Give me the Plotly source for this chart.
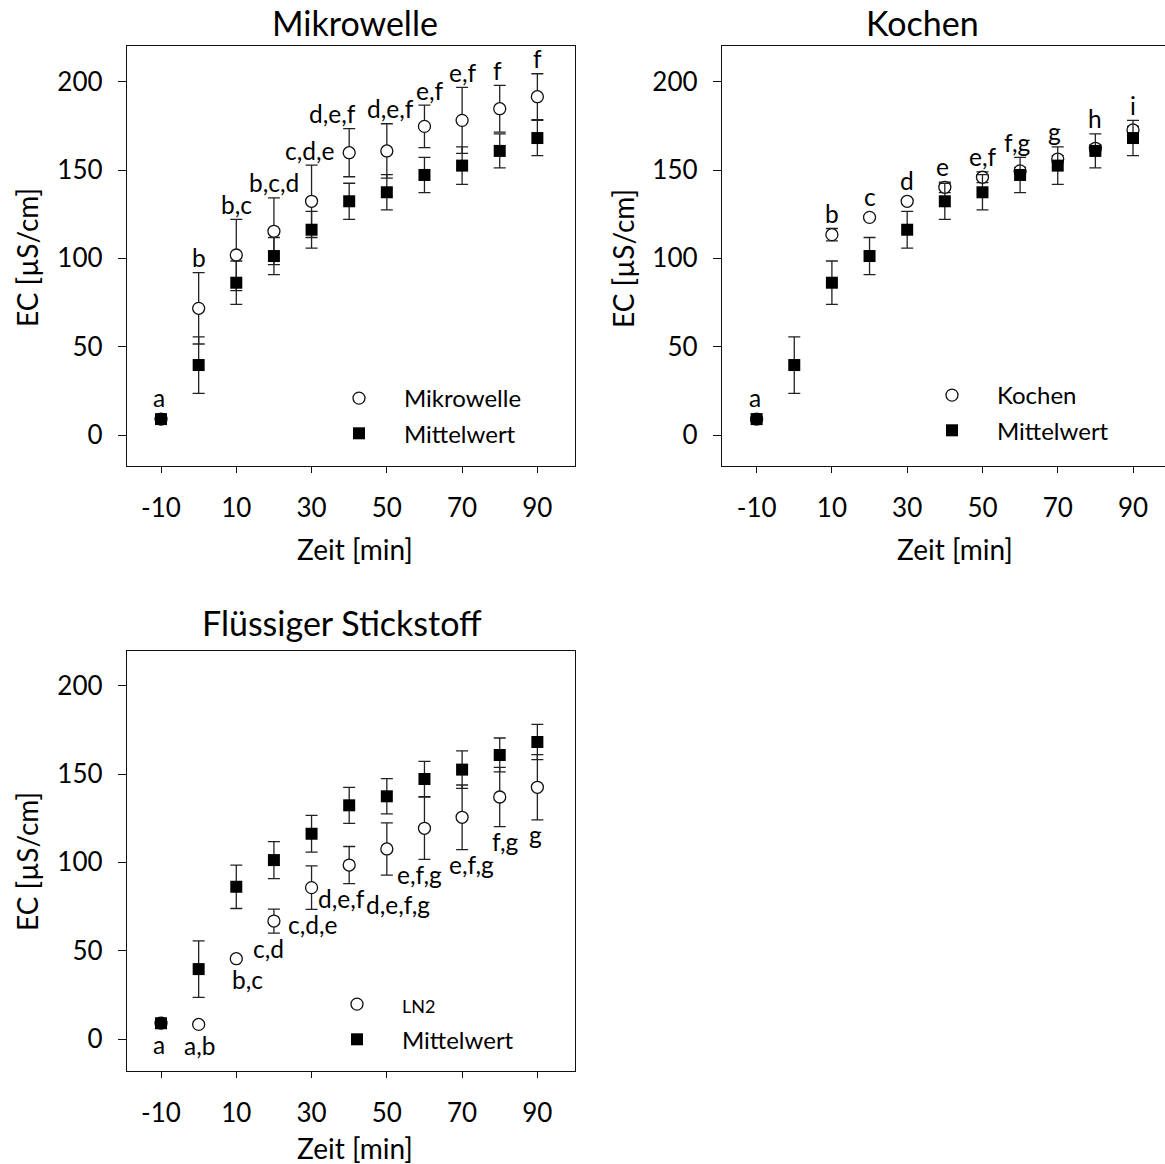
import plotly.graph_objects as go

# ---------------- data ----------------
time = [-10, 0, 10, 20, 30, 40, 50, 60, 70, 80, 90]
tick_vals = [-10, 10, 30, 50, 70, 90]

mittel = [9, 39.6, 86.2, 101.3, 116.2, 132.3, 137.4, 147.2, 152.5, 160.8, 168.1]
mittel_sd = [1, 16, 12.3, 10.5, 10.4, 10.2, 10, 10, 10.6, 9.6, 10]

mikro = [9, 71.7, 101.9, 115.3, 132.3, 159.8, 160.8, 174.7, 178.1, 184.7, 191.5]
mikro_sd = [1, 20.2, 20.2, 18.9, 20.5, 13.6, 15.4, 12, 18.7, 13.2, 13]
mikro_letters = ["a", "b", "b,c", "b,c,d", "c,d,e", "d,e,f", "d,e,f", "e,f", "e,f", "f", "f"]

kochen = [9, None, 113.4, 123.2, 132.3, 140.2, 145.9, 149.5, 156.2, 162.3, 172.7]
kochen_sd = [1, None, 3.5, 1, 1, 3, 3, 2, 2, 2, 2]
kochen_letters = ["a", "", "b", "c", "d", "e", "e,f", "f,g", "g", "h", "i"]

ln2 = [9, 8.3, 45.5, 66.8, 85.7, 98.5, 107.6, 119.3, 125.5, 137, 142.5]
ln2_sd = [0.5, 0.5, 1, 6.8, 12.3, 10.5, 14.8, 17.6, 18.3, 16.8, 18.5]
ln2_letters = ["a", "a,b", "b,c", "c,d", "c,d,e", "d,e,f", "d,e,f,g", "e,f,g", "e,f,g", "f,g", "g"]

# ---------------- style ----------------
FONT = "Lato"
W, H = 1165, 1164
TICK_SIZE = 26
TITLE_SIZE = 34
AXT_SIZE = 28
LEG_SIZE = 24
LET_SIZE = 24.5
INK = "#111"

mikro_dx = [-2, 0, 0, 0, -2, -17, 4, 5, 0, -2, 0]
kochen_dx = [-2, 0, 0, 0, 0, -2, 0, -3, -3, 0, 0]
ln2_dx = [-2, 1, 11, -5, 1, -8, 11, -5, 9, 6, -2]
ln2_dy = [0, 0, 0, 0, 0, 0, -14, 0, 0, 0, 0]

fig = go.Figure()


def add_panel(n, vals, sds, name, legend_id):
    xa = "x" if n == 1 else f"x{n}"
    ya = "y" if n == 1 else f"y{n}"
    fig.add_trace(go.Scatter(
        x=time, y=vals, mode="markers", name=name, xaxis=xa, yaxis=ya,
        legend=legend_id, legendgroup=f"{legend_id}a",
        marker=dict(symbol="circle", size=12, color="white",
                    line=dict(color=INK, width=1.3)),
        error_y=dict(type="data", array=sds, visible=True, color="#222",
                     thickness=1.3, width=6),
    ))
    fig.add_trace(go.Scatter(
        x=time, y=mittel, mode="markers", name="Mittelwert", xaxis=xa, yaxis=ya,
        legend=legend_id, legendgroup=f"{legend_id}b",
        marker=dict(symbol="square", size=12, color="black",
                    line=dict(color="black", width=0)),
        error_y=dict(type="data", array=mittel_sd, visible=True, color="#222",
                     thickness=1.3, width=6),
    ))


add_panel(1, mikro, mikro_sd, "Mikrowelle", "legend")
add_panel(2, kochen, kochen_sd, "Kochen", "legend2")
add_panel(3, ln2, ln2_sd, "<span style='font-size:18px'>LN2</span>", "legend3")

# letters above / below
annotations = []
R = 3.5


def letters_above(n, vals, sds, letters, dxs, include_mean):
    xa = "x" if n == 1 else f"x{n}"
    ya = "y" if n == 1 else f"y{n}"
    for t, v, s, lab, dx, m, ms in zip(time, vals, sds, letters, dxs, mittel, mittel_sd):
        if not lab or v is None:
            continue
        top = max(v + s, v + R)
        if include_mean:
            top = max(top, m + ms)
        annotations.append(dict(x=t, y=top, xref=xa, yref=ya, text=lab, showarrow=False,
                                xanchor="center", yanchor="middle", xshift=dx, yshift=15,
                                font=dict(family=FONT, size=LET_SIZE, color="black")))


letters_above(1, mikro, mikro_sd, mikro_letters, mikro_dx, False)
letters_above(2, kochen, kochen_sd, kochen_letters, kochen_dx, True)

for t, v, s, lab, dx, dy in zip(time, ln2, ln2_sd, ln2_letters, ln2_dx, ln2_dy):
    bot = min(v - s, v - R)
    annotations.append(dict(x=t, y=bot, xref="x3", yref="y3", text=lab, showarrow=False,
                            xanchor="center", yanchor="middle", xshift=dx, yshift=-15 + dy,
                            font=dict(family=FONT, size=LET_SIZE, color="black")))

# panel titles and axis titles (pixel positions -> paper)
def px(xp):
    return xp / W


def py(yp):
    return 1 - yp / H


for text, xc, yc in [("Mikrowelle", 355, 22), ("Kochen", 922, 22), ("Flüssiger Stickstoff", 342, 622)]:
    annotations.append(dict(x=px(xc), y=py(yc), xref="paper", yref="paper", text=text,
                            showarrow=False, xanchor="center", yanchor="middle",
                            font=dict(family=FONT, size=TITLE_SIZE, color="black")))

for xc, yc in [(27, 258), (623, 258), (27, 862)]:
    annotations.append(dict(x=px(xc), y=py(yc), xref="paper", yref="paper", text="EC [µS/cm]",
                            showarrow=False, textangle=-90, xanchor="center", yanchor="middle",
                            font=dict(family=FONT, size=AXT_SIZE, color="black")))

for xc, yc in [(355, 549), (955, 549), (355, 1148)]:
    annotations.append(dict(x=px(xc), y=py(yc), xref="paper", yref="paper", text="Zeit [min]",
                            showarrow=False, xanchor="center", yanchor="middle",
                            font=dict(family=FONT, size=AXT_SIZE, color="black")))


def xaxis_cfg(domain, rng, mirror=True):
    return dict(domain=domain, range=rng, tickmode="array", tickvals=tick_vals,
                ticktext=[str(v) for v in tick_vals], ticks="outside", ticklen=6, tickwidth=1.3,
                tickcolor=INK, showline=True, linecolor=INK, linewidth=1.4, mirror=mirror,
                showgrid=False, zeroline=False, ticklabelstandoff=13,
                tickfont=dict(family=FONT, size=TICK_SIZE, color="black"))


def yaxis_cfg(domain, rng, anchor, mirror=True):
    return dict(domain=domain, range=rng, anchor=anchor, tickmode="array",
                tickvals=[0, 50, 100, 150, 200], ticks="outside", ticklen=8, tickwidth=1.3,
                tickcolor=INK, showline=True, linecolor=INK, linewidth=1.4, mirror=mirror,
                showgrid=False, zeroline=False, ticklabelstandoff=10,
                tickfont=dict(family=FONT, size=TICK_SIZE, color="black"))


top_dom = [py(466), py(46)]
bot_dom = [py(1070.7), py(650.7)]


def leg(xc, ytop):
    return dict(x=px(xc), y=py(ytop), xanchor="left", yanchor="top", bgcolor="rgba(0,0,0,0)",
                borderwidth=0, itemwidth=80, tracegroupgap=1, traceorder="grouped",
                font=dict(family=FONT, size=LEG_SIZE, color="black"), itemclick=False)


fig.update_layout(
    width=W, height=H, margin=dict(l=0, r=0, t=0, b=0),
    paper_bgcolor="white", plot_bgcolor="white",
    font=dict(family=FONT, color="black"),
    showlegend=True,
    xaxis=xaxis_cfg([px(127), px(575)], [-19.04, 100], True) | dict(anchor="y"),
    yaxis=yaxis_cfg(top_dom, [-17.55, 220.2], "x"),
    xaxis2=xaxis_cfg([px(722), 1.0], [-19.2, 98.5], True) | dict(anchor="y2"),
    yaxis2=yaxis_cfg(top_dom, [-17.55, 220.2], "x2", mirror=False),
    xaxis3=xaxis_cfg([px(127), px(575)], [-19.04, 100], True) | dict(anchor="y3"),
    yaxis3=yaxis_cfg(bot_dom, [-17.9, 219.8], "x3"),
    legend=leg(314, 376),
    legend2=leg(907, 373),
    legend3=leg(312, 982),
    annotations=annotations,
)

fig.write_html("out.html")
